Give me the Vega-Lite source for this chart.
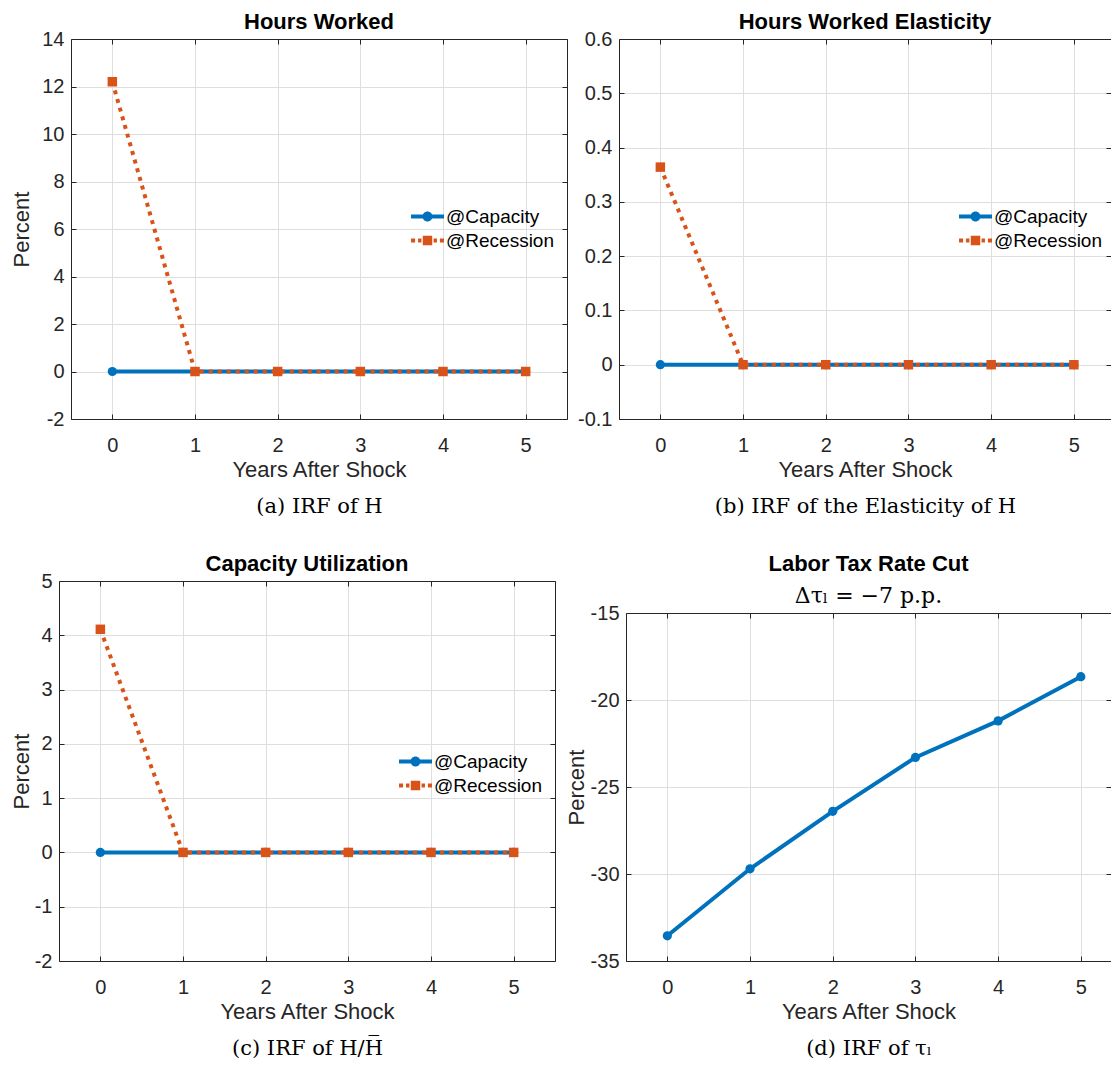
{
  "$schema": "https://vega.github.io/schema/vega-lite/v6.json",
  "background": "white",
  "padding": {"left": 0, "top": 11, "right": 0, "bottom": 0},
  "datasets": {
    "hours": [
      {"year": 0, "series": "@Capacity", "value": 0},
      {"year": 1, "series": "@Capacity", "value": 0},
      {"year": 2, "series": "@Capacity", "value": 0},
      {"year": 3, "series": "@Capacity", "value": 0},
      {"year": 4, "series": "@Capacity", "value": 0},
      {"year": 5, "series": "@Capacity", "value": 0},
      {"year": 0, "series": "@Recession", "value": 12.2},
      {"year": 1, "series": "@Recession", "value": 0},
      {"year": 2, "series": "@Recession", "value": 0},
      {"year": 3, "series": "@Recession", "value": 0},
      {"year": 4, "series": "@Recession", "value": 0},
      {"year": 5, "series": "@Recession", "value": 0}
    ],
    "elasticity": [
      {"year": 0, "series": "@Capacity", "value": 0},
      {"year": 1, "series": "@Capacity", "value": 0},
      {"year": 2, "series": "@Capacity", "value": 0},
      {"year": 3, "series": "@Capacity", "value": 0},
      {"year": 4, "series": "@Capacity", "value": 0},
      {"year": 5, "series": "@Capacity", "value": 0},
      {"year": 0, "series": "@Recession", "value": 0.364},
      {"year": 1, "series": "@Recession", "value": 0},
      {"year": 2, "series": "@Recession", "value": 0},
      {"year": 3, "series": "@Recession", "value": 0},
      {"year": 4, "series": "@Recession", "value": 0},
      {"year": 5, "series": "@Recession", "value": 0}
    ],
    "capacity": [
      {"year": 0, "series": "@Capacity", "value": 0},
      {"year": 1, "series": "@Capacity", "value": 0},
      {"year": 2, "series": "@Capacity", "value": 0},
      {"year": 3, "series": "@Capacity", "value": 0},
      {"year": 4, "series": "@Capacity", "value": 0},
      {"year": 5, "series": "@Capacity", "value": 0},
      {"year": 0, "series": "@Recession", "value": 4.11},
      {"year": 1, "series": "@Recession", "value": 0},
      {"year": 2, "series": "@Recession", "value": 0},
      {"year": 3, "series": "@Recession", "value": 0},
      {"year": 4, "series": "@Recession", "value": 0},
      {"year": 5, "series": "@Recession", "value": 0}
    ],
    "tax": [
      {"year": 0, "value": -33.55},
      {"year": 1, "value": -29.7},
      {"year": 2, "value": -26.4},
      {"year": 3, "value": -23.3},
      {"year": 4, "value": -21.2},
      {"year": 5, "value": -18.66}
    ]
  },
  "columns": 3,
  "spacing": {"row": 37, "column": 9},
  "align": "none",
  "resolve": {"scale": {"color": "independent", "shape": "independent"}, "legend": {"color": "independent", "shape": "independent"}},
  "concat": [
    {
      "width": 1, "height": 1,
      "data": {"values": []},
      "mark": {"type": "point", "opacity": 0},
      "encoding": {}
    },
    {
      "width": 496, "height": 380,
      "title": {"text": "Hours Worked"},
      "data": {"name": "hours"},
      "resolve": {"axis": {"x": "independent", "y": "independent"}},
      "layer": [
        {
          "transform": [{"filter": "datum.series === '@Capacity'"}],
          "mark": {"type": "line", "color": "#0072BD", "strokeWidth": 4},
          "encoding": {
            "x": {"field": "year", "type": "quantitative", "scale": {"domain": [-0.5, 5.5], "nice": false, "zero": false},
                  "axis": {"orient": "bottom", "values": [0, 1, 2, 3, 4, 5], "grid": true, "title": "Years After Shock", "labelPadding": 21, "titlePadding": 4, "format": "~g"}},
            "y": {"field": "value", "type": "quantitative", "scale": {"domain": [-2, 14], "nice": false, "zero": false},
                  "axis": {"orient": "left", "values": [-2, 0, 2, 4, 6, 8, 10, 12, 14], "grid": true, "title": "Percent", "labelPadding": 12, "titlePadding": 8, "format": "~g", "labelExpr": "replace(datum.label, '−', '-')"}}
          }
        },
        {
          "transform": [{"filter": "datum.series === '@Capacity'"}],
          "mark": {"type": "point", "shape": "circle", "filled": true, "color": "#0072BD", "size": 85, "opacity": 1},
          "encoding": {
            "x": {"field": "year", "type": "quantitative", "scale": {"domain": [-0.5, 5.5], "nice": false, "zero": false},
                  "axis": {"orient": "top", "values": [0, 1, 2, 3, 4, 5], "labels": false, "grid": false, "title": null}},
            "y": {"field": "value", "type": "quantitative", "scale": {"domain": [-2, 14], "nice": false, "zero": false},
                  "axis": {"orient": "right", "values": [-2, 0, 2, 4, 6, 8, 10, 12, 14], "labels": false, "grid": false, "title": null}}
          }
        },
        {
          "transform": [{"filter": "datum.series === '@Recession'"}],
          "mark": {"type": "line", "color": "#D95319", "strokeWidth": 4, "strokeDash": [4, 5]},
          "encoding": {
            "x": {"field": "year", "type": "quantitative", "scale": {"domain": [-0.5, 5.5], "nice": false, "zero": false}, "axis": null},
            "y": {"field": "value", "type": "quantitative", "scale": {"domain": [-2, 14], "nice": false, "zero": false}, "axis": null}
          }
        },
        {
          "transform": [{"filter": "datum.series === '@Recession'"}],
          "mark": {"type": "point", "shape": "square", "filled": true, "color": "#D95319", "size": 90, "opacity": 1},
          "encoding": {
            "x": {"field": "year", "type": "quantitative", "scale": {"domain": [-0.5, 5.5], "nice": false, "zero": false}, "axis": null},
            "y": {"field": "value", "type": "quantitative", "scale": {"domain": [-2, 14], "nice": false, "zero": false}, "axis": null}
          }
        },
        {
          "mark": {"type": "point", "filled": true, "opacity": 0},
          "encoding": {
            "x": {"field": "year", "type": "quantitative", "scale": {"domain": [-0.5, 5.5], "nice": false, "zero": false},
                  "axis": {"orient": "bottom", "labels": false, "ticks": false, "domain": false, "grid": false, "title": "(a)  IRF of H", "titleFont": "DejaVu Serif", "titleFontSize": 21, "titleColor": "black", "offset": 72, "titlePadding": 4}},
            "y": {"field": "value", "type": "quantitative", "scale": {"domain": [-2, 14], "nice": false, "zero": false}, "axis": null},
            "color": {"field": "series", "type": "nominal", "scale": {"domain": ["@Capacity", "@Recession"], "range": ["#0072BD", "#D95319"]},
                      "legend": {"orient": "none", "legendX": 343, "legendY": 164, "title": null}},
            "shape": {"field": "series", "type": "nominal", "scale": {"domain": ["@Capacity", "@Recession"], "range": ["M-1.22,-0.15H0V0.15H-1.22Z M0,-0.15H1.22V0.15H0Z M0.37,0A0.37,0.37 0 1 1 -0.37,0A0.37,0.37 0 1 1 0.37,0Z", "M-1.22,-0.15H-0.92V0.15H-1.22Z M-0.7,-0.15H-0.45V0.15H-0.7Z M-0.35,-0.35H0.35V0.35H-0.35Z M0.45,-0.15H0.7V0.15H0.45Z M0.92,-0.15H1.22V0.15H0.92Z"]},
                      "legend": {"orient": "none", "legendX": 343, "legendY": 164, "title": null}}
          }
        }
      ]
    },
    {
      "width": 492, "height": 380,
      "title": {"text": "Hours Worked Elasticity"},
      "data": {"name": "elasticity"},
      "resolve": {"axis": {"x": "independent", "y": "independent"}},
      "layer": [
        {
          "transform": [{"filter": "datum.series === '@Capacity'"}],
          "mark": {"type": "line", "color": "#0072BD", "strokeWidth": 4},
          "encoding": {
            "x": {"field": "year", "type": "quantitative", "scale": {"domain": [-0.5, 5.449], "nice": false, "zero": false},
                  "axis": {"orient": "bottom", "values": [0, 1, 2, 3, 4, 5], "grid": true, "title": "Years After Shock", "labelPadding": 21, "titlePadding": 4, "format": "~g"}},
            "y": {"field": "value", "type": "quantitative", "scale": {"domain": [-0.1, 0.6], "nice": false, "zero": false},
                  "axis": {"orient": "left", "values": [-0.1, 0, 0.1, 0.2, 0.3, 0.4, 0.5, 0.6], "grid": true, "title": null, "labelPadding": 12, "format": "~g", "labelExpr": "replace(datum.label, '−', '-')"}}
          }
        },
        {
          "transform": [{"filter": "datum.series === '@Capacity'"}],
          "mark": {"type": "point", "shape": "circle", "filled": true, "color": "#0072BD", "size": 85, "opacity": 1},
          "encoding": {
            "x": {"field": "year", "type": "quantitative", "scale": {"domain": [-0.5, 5.449], "nice": false, "zero": false},
                  "axis": {"orient": "top", "values": [0, 1, 2, 3, 4, 5], "labels": false, "grid": false, "title": null}},
            "y": {"field": "value", "type": "quantitative", "scale": {"domain": [-0.1, 0.6], "nice": false, "zero": false},
                  "axis": {"orient": "right", "values": [-0.1, 0, 0.1, 0.2, 0.3, 0.4, 0.5, 0.6], "labels": false, "grid": false, "title": null}}
          }
        },
        {
          "transform": [{"filter": "datum.series === '@Recession'"}],
          "mark": {"type": "line", "color": "#D95319", "strokeWidth": 4, "strokeDash": [4, 5]},
          "encoding": {
            "x": {"field": "year", "type": "quantitative", "scale": {"domain": [-0.5, 5.449], "nice": false, "zero": false}, "axis": null},
            "y": {"field": "value", "type": "quantitative", "scale": {"domain": [-0.1, 0.6], "nice": false, "zero": false}, "axis": null}
          }
        },
        {
          "transform": [{"filter": "datum.series === '@Recession'"}],
          "mark": {"type": "point", "shape": "square", "filled": true, "color": "#D95319", "size": 90, "opacity": 1},
          "encoding": {
            "x": {"field": "year", "type": "quantitative", "scale": {"domain": [-0.5, 5.449], "nice": false, "zero": false}, "axis": null},
            "y": {"field": "value", "type": "quantitative", "scale": {"domain": [-0.1, 0.6], "nice": false, "zero": false}, "axis": null}
          }
        },
        {
          "mark": {"type": "point", "filled": true, "opacity": 0},
          "encoding": {
            "x": {"field": "year", "type": "quantitative", "scale": {"domain": [-0.5, 5.449], "nice": false, "zero": false},
                  "axis": {"orient": "bottom", "labels": false, "ticks": false, "domain": false, "grid": false, "title": "(b)  IRF of the Elasticity of H", "titleFont": "DejaVu Serif", "titleFontSize": 21, "titleColor": "black", "offset": 72, "titlePadding": 4}},
            "y": {"field": "value", "type": "quantitative", "scale": {"domain": [-0.1, 0.6], "nice": false, "zero": false}, "axis": null},
            "color": {"field": "series", "type": "nominal", "scale": {"domain": ["@Capacity", "@Recession"], "range": ["#0072BD", "#D95319"]},
                      "legend": {"orient": "none", "legendX": 343, "legendY": 164, "title": null}},
            "shape": {"field": "series", "type": "nominal", "scale": {"domain": ["@Capacity", "@Recession"], "range": ["M-1.22,-0.15H0V0.15H-1.22Z M0,-0.15H1.22V0.15H0Z M0.37,0A0.37,0.37 0 1 1 -0.37,0A0.37,0.37 0 1 1 0.37,0Z", "M-1.22,-0.15H-0.92V0.15H-1.22Z M-0.7,-0.15H-0.45V0.15H-0.7Z M-0.35,-0.35H0.35V0.35H-0.35Z M0.45,-0.15H0.7V0.15H0.45Z M0.92,-0.15H1.22V0.15H0.92Z"]},
                      "legend": {"orient": "none", "legendX": 343, "legendY": 164, "title": null}}
          }
        }
      ]
    },
    {
      "width": 1, "height": 1,
      "data": {"values": []},
      "mark": {"type": "point", "opacity": 0},
      "encoding": {}
    },
    {
      "width": 496, "height": 380,
      "title": {"text": "Capacity Utilization"},
      "data": {"name": "capacity"},
      "resolve": {"axis": {"x": "independent", "y": "independent"}},
      "layer": [
        {
          "transform": [{"filter": "datum.series === '@Capacity'"}],
          "mark": {"type": "line", "color": "#0072BD", "strokeWidth": 4},
          "encoding": {
            "x": {"field": "year", "type": "quantitative", "scale": {"domain": [-0.5, 5.5], "nice": false, "zero": false},
                  "axis": {"orient": "bottom", "values": [0, 1, 2, 3, 4, 5], "grid": true, "title": "Years After Shock", "labelPadding": 21, "titlePadding": 4, "format": "~g"}},
            "y": {"field": "value", "type": "quantitative", "scale": {"domain": [-2, 5], "nice": false, "zero": false},
                  "axis": {"orient": "left", "values": [-2, -1, 0, 1, 2, 3, 4, 5], "grid": true, "title": "Percent", "labelPadding": 12, "titlePadding": 1, "format": "~g", "labelExpr": "replace(datum.label, '−', '-')"}}
          }
        },
        {
          "transform": [{"filter": "datum.series === '@Capacity'"}],
          "mark": {"type": "point", "shape": "circle", "filled": true, "color": "#0072BD", "size": 85, "opacity": 1},
          "encoding": {
            "x": {"field": "year", "type": "quantitative", "scale": {"domain": [-0.5, 5.5], "nice": false, "zero": false},
                  "axis": {"orient": "top", "values": [0, 1, 2, 3, 4, 5], "labels": false, "grid": false, "title": null}},
            "y": {"field": "value", "type": "quantitative", "scale": {"domain": [-2, 5], "nice": false, "zero": false},
                  "axis": {"orient": "right", "values": [-2, -1, 0, 1, 2, 3, 4, 5], "labels": false, "grid": false, "title": null}}
          }
        },
        {
          "transform": [{"filter": "datum.series === '@Recession'"}],
          "mark": {"type": "line", "color": "#D95319", "strokeWidth": 4, "strokeDash": [4, 5]},
          "encoding": {
            "x": {"field": "year", "type": "quantitative", "scale": {"domain": [-0.5, 5.5], "nice": false, "zero": false}, "axis": null},
            "y": {"field": "value", "type": "quantitative", "scale": {"domain": [-2, 5], "nice": false, "zero": false}, "axis": null}
          }
        },
        {
          "transform": [{"filter": "datum.series === '@Recession'"}],
          "mark": {"type": "point", "shape": "square", "filled": true, "color": "#D95319", "size": 90, "opacity": 1},
          "encoding": {
            "x": {"field": "year", "type": "quantitative", "scale": {"domain": [-0.5, 5.5], "nice": false, "zero": false}, "axis": null},
            "y": {"field": "value", "type": "quantitative", "scale": {"domain": [-2, 5], "nice": false, "zero": false}, "axis": null}
          }
        },
        {
          "mark": {"type": "point", "filled": true, "opacity": 0},
          "encoding": {
            "x": {"field": "year", "type": "quantitative", "scale": {"domain": [-0.5, 5.5], "nice": false, "zero": false},
                  "axis": {"orient": "bottom", "labels": false, "ticks": false, "domain": false, "grid": false, "title": "(c)  IRF of H/H̅", "titleFont": "DejaVu Serif", "titleFontSize": 21, "titleColor": "black", "offset": 72, "titlePadding": 4}},
            "y": {"field": "value", "type": "quantitative", "scale": {"domain": [-2, 5], "nice": false, "zero": false}, "axis": null},
            "color": {"field": "series", "type": "nominal", "scale": {"domain": ["@Capacity", "@Recession"], "range": ["#0072BD", "#D95319"]},
                      "legend": {"orient": "none", "legendX": 343, "legendY": 167, "title": null}},
            "shape": {"field": "series", "type": "nominal", "scale": {"domain": ["@Capacity", "@Recession"], "range": ["M-1.22,-0.15H0V0.15H-1.22Z M0,-0.15H1.22V0.15H0Z M0.37,0A0.37,0.37 0 1 1 -0.37,0A0.37,0.37 0 1 1 0.37,0Z", "M-1.22,-0.15H-0.92V0.15H-1.22Z M-0.7,-0.15H-0.45V0.15H-0.7Z M-0.35,-0.35H0.35V0.35H-0.35Z M0.45,-0.15H0.7V0.15H0.45Z M0.92,-0.15H1.22V0.15H0.92Z"]},
                      "legend": {"orient": "none", "legendX": 343, "legendY": 167, "title": null}}
          }
        }
      ]
    },
    {
      "width": 485, "height": 348,
      "title": {"text": "Labor Tax Rate Cut", "subtitle": "Δτₗ = −7 p.p."},
      "data": {"name": "tax"},
      "resolve": {"axis": {"x": "independent", "y": "independent"}},
      "layer": [
        {
          "mark": {"type": "line", "color": "#0072BD", "strokeWidth": 4},
          "encoding": {
            "x": {"field": "year", "type": "quantitative", "scale": {"domain": [-0.5, 5.365], "nice": false, "zero": false},
                  "axis": {"orient": "bottom", "values": [0, 1, 2, 3, 4, 5], "grid": true, "title": "Years After Shock", "labelPadding": 21, "titlePadding": 4, "format": "~g"}},
            "y": {"field": "value", "type": "quantitative", "scale": {"domain": [-35, -15], "nice": false, "zero": false},
                  "axis": {"orient": "left", "values": [-35, -30, -25, -20, -15], "grid": true, "title": "Percent", "labelPadding": 12, "titlePadding": 2, "format": "~g", "labelExpr": "replace(datum.label, '−', '-')"}}
          }
        },
        {
          "mark": {"type": "point", "shape": "circle", "filled": true, "color": "#0072BD", "size": 85, "opacity": 1},
          "encoding": {
            "x": {"field": "year", "type": "quantitative", "scale": {"domain": [-0.5, 5.365], "nice": false, "zero": false},
                  "axis": {"orient": "top", "values": [0, 1, 2, 3, 4, 5], "labels": false, "grid": false, "title": null}},
            "y": {"field": "value", "type": "quantitative", "scale": {"domain": [-35, -15], "nice": false, "zero": false},
                  "axis": {"orient": "right", "values": [-35, -30, -25, -20, -15], "labels": false, "grid": false, "title": null}}
          }
        },
        {
          "mark": {"type": "point", "filled": true, "opacity": 0},
          "encoding": {
            "x": {"field": "year", "type": "quantitative", "scale": {"domain": [-0.5, 5.365], "nice": false, "zero": false},
                  "axis": {"orient": "bottom", "labels": false, "ticks": false, "domain": false, "grid": false, "title": "(d)  IRF of τₗ", "titleFont": "DejaVu Serif", "titleFontSize": 21, "titleColor": "black", "offset": 72, "titlePadding": 4}},
            "y": {"field": "value", "type": "quantitative", "scale": {"domain": [-35, -15], "nice": false, "zero": false}, "axis": null}
          }
        }
      ]
    }
  ],
  "config": {
    "view": {"stroke": null},
    "font": "Liberation Sans",
    "axis": {
      "labelFont": "Liberation Sans", "labelFontSize": 20, "labelColor": "#262626",
      "titleFont": "Liberation Sans", "titleFontSize": 22, "titleFontWeight": "normal", "titleColor": "#262626",
      "domainColor": "#262626", "domainWidth": 1, "tickColor": "#262626", "tickWidth": 1, "tickSize": -5,
      "gridColor": "#dedede", "gridWidth": 1, "gridOpacity": 1, "labelAngle": 0, "labelFlush": false, "labelOverlap": false
    },
    "title": {
      "font": "Liberation Sans", "fontSize": 22, "fontWeight": "bold", "color": "black", "anchor": "middle", "frame": "group", "offset": -5,
      "subtitleFont": "DejaVu Serif", "subtitleFontSize": 22, "subtitleColor": "black", "subtitlePadding": 10
    },
    "legend": {
      "labelFont": "Liberation Sans", "labelFontSize": 19, "labelColor": "black", "symbolSize": 729, "symbolOpacity": 1,
      "labelOffset": 5, "rowPadding": 0, "symbolStrokeWidth": 0, "padding": 0
    }
  }
}
